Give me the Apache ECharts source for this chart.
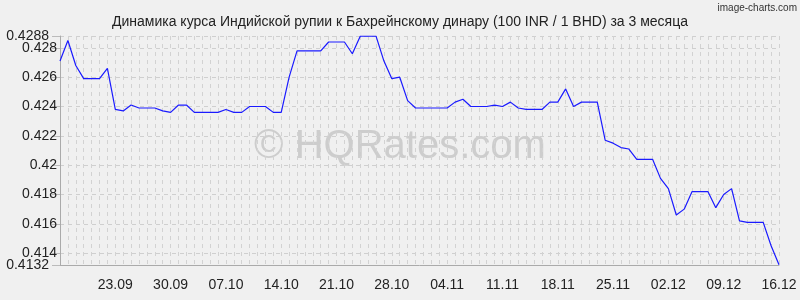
<!DOCTYPE html>
<html>
<head>
<meta charset="utf-8">
<script src="https://cdn.jsdelivr.net/npm/echarts@6/dist/echarts.min.js"></script>
<style>
html,body{margin:0;padding:0;background:#f0f0f0;}
#chart{width:800px;height:300px;}
</style>
</head>
<body>
<div id="chart"></div>
<script>
// Daily dates 16.09 .. 16.12
const monthSpans = [[9, 16, 30], [10, 1, 31], [11, 1, 30], [12, 1, 16]];
const categories = [];
monthSpans.forEach(function (m) {
  for (let d = m[1]; d <= m[2]; d++) {
    categories.push((d < 10 ? '0' : '') + d + '.' + (m[0] < 10 ? '0' : '') + m[0]);
  }
});

const rates = [
  0.4271, 0.4285, 0.4268, 0.4259, 0.4259, 0.4259, 0.4266, 0.4238, 0.4237, 0.4241,
  0.4239, 0.4239, 0.4239, 0.4237, 0.4236, 0.4241, 0.4241, 0.4236, 0.4236, 0.4236,
  0.4236, 0.4238, 0.4236, 0.4236, 0.4240, 0.4240, 0.4240, 0.4236, 0.4236, 0.4260,
  0.4278, 0.4278, 0.4278, 0.4278, 0.4284, 0.4284, 0.4284, 0.4276, 0.4288, 0.4288,
  0.4288, 0.4271, 0.4259, 0.4260, 0.4244, 0.4239, 0.4239, 0.4239, 0.4239, 0.4239,
  0.4243, 0.4245, 0.4240, 0.4240, 0.4240, 0.4241, 0.4240, 0.4243, 0.4239, 0.4238,
  0.4238, 0.4238, 0.4243, 0.4243, 0.4252, 0.4240, 0.4243, 0.4243, 0.4243, 0.4217,
  0.4215, 0.4212, 0.4211, 0.4204, 0.4204, 0.4204, 0.4191, 0.4184, 0.4166, 0.4170,
  0.4182, 0.4182, 0.4182, 0.4171, 0.4180, 0.4184, 0.4162, 0.4161, 0.4161, 0.4161,
  0.4145, 0.4132
];

const xTickLabels = ['23.09', '30.09', '07.10', '14.10', '21.10', '28.10', '04.11',
  '11.11', '18.11', '25.11', '02.12', '09.12', '16.12'];
const yTickValues = [0.414, 0.416, 0.418, 0.42, 0.422, 0.424, 0.426, 0.428];
const yEndValues = [0.4132, 0.4288];
const yMin = 0.41319, yMax = 0.42881;

const FONT = 'Liberation Sans, Arial, sans-serif';
const fmt = function (v) { return String(parseFloat(v.toFixed(4))); };
const chart = echarts.init(document.getElementById('chart'), null, {renderer: 'canvas'});
chart.setOption({
  backgroundColor: '#f0f0f0',
  animation: false,
  title: {
    text: 'Динамика курса Индийской рупии к Бахрейнскому динару (100 INR / 1 BHD) за 3 месяца',
    left: 'center', top: 10,
    textStyle: {fontFamily: FONT, fontSize: 14, fontWeight: 'normal', color: '#222'}
  },
  graphic: [
    {type: 'text', right: 3, top: 3, z: 10,
      style: {text: 'image-charts.com', font: '10px ' + FONT, fill: '#333'}},
    {type: 'text', left: 'center', top: 127, z: 0,
      style: {text: '© HQRates.com', font: '40px ' + FONT, fill: '#cdcdcd'}}
  ],
  grid: {left: 60, right: 21, top: 36, bottom: 35, containLabel: false},
  xAxis: {
    type: 'category', data: categories, boundaryGap: false,
    axisLine: {lineStyle: {color: '#aaa'}},
    axisTick: {show: false},
    axisLabel: {
      interval: function (i, v) { return xTickLabels.indexOf(v) >= 0; },
      fontFamily: FONT, fontSize: 14, color: '#222', margin: 13
    },
    splitLine: {show: true, interval: 0, lineStyle: {color: '#d2d2d2', type: [4, 4], width: 1}}
  },
  yAxis: [{
    type: 'value', min: yMin, max: yMax,
    axisLine: {show: true, lineStyle: {color: '#aaa'}},
    axisTick: {show: true, length: 8, customValues: yTickValues.concat(yEndValues), lineStyle: {color: '#bbb'}},
    axisLabel: {
      customValues: yTickValues, margin: 3,
      fontFamily: FONT, fontSize: 14, color: '#222', formatter: fmt
    },
    splitLine: {show: true, lineStyle: {color: '#cfcfcf', type: [4, 4], width: 1}}
  }, {
    type: 'value', min: yMin, max: yMax, position: 'left',
    axisLine: {show: false}, axisTick: {show: false}, splitLine: {show: false},
    axisLabel: {
      customValues: yEndValues, margin: 11,
      fontFamily: FONT, fontSize: 14, color: '#222', formatter: fmt
    }
  }],
  series: [{
    type: 'line', data: rates, showSymbol: false, symbol: 'none',
    lineStyle: {color: '#1a1aff', width: 1.2}, z: 5
  }]
});
</script>
</body>
</html>
